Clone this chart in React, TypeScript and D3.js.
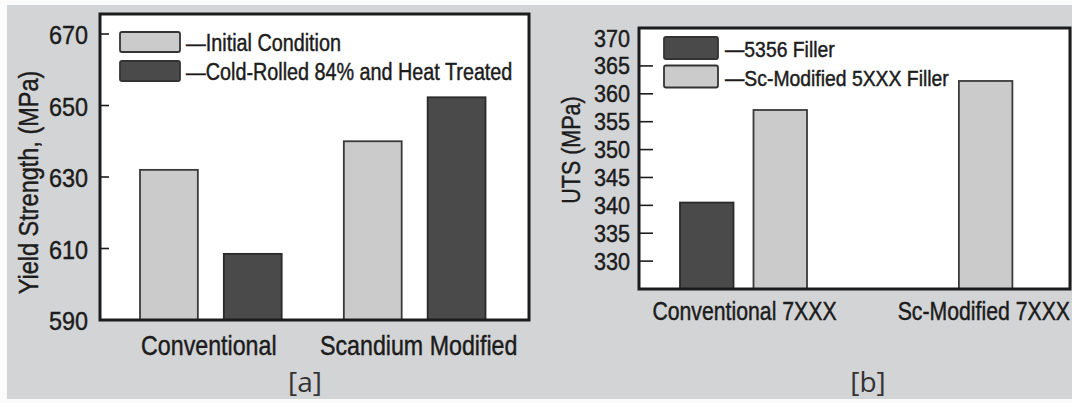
import React from "react";
import * as d3 from "d3";

// ---------- Panel [a] data ----------
const categoriesA = ["Conventional", "Scandium Modified"];
const seriesA = ["Initial Condition", "Cold-Rolled 84% and Heat Treated"];
const initialConditionA = [632, 640];
const coldRolledA = [608.5, 652.3];
const ticksA = [590, 610, 630, 650, 670];

// ---------- Panel [b] data ----------
const categoriesB = ["Conventional 7XXX", "Sc-Modified 7XXX"];
const seriesB = ["5356 Filler", "Sc-Modified 5XXX Filler"];
const filler5356B: (number | null)[] = [340.5, null];
const fillerScB: (number | null)[] = [357.1, 362.3];
const ticksB = [330, 335, 340, 345, 350, 355, 360, 365, 370];

const LIGHT = "#cbcbcb";
const DARK = "#4a4a4a";
const BG = "#d3d4d6";
const INK = "#1c1c1c";
const FONT = "'Liberation Sans', Arial, Helvetica, sans-serif";

function T({ x, y, sx = 0.9, size, anchor = "start", rotate = 0, children, family = FONT, fill = INK, bold = true }: any) {
  const tr = `translate(${x},${y})${rotate ? ` rotate(${rotate})` : ""} scale(${sx},1)`;
  return (
    <text transform={tr} fontSize={size} fontFamily={family} textAnchor={anchor} fill={fill}
      stroke={bold ? fill : "none"} strokeWidth={bold ? 0.45 : 0}>
      {children}
    </text>
  );
}

function PanelA() {
  const frame = { l: 100, r: 529, t: 14, b: 320 };
  const y = d3.scaleLinear().domain([590, 675.6]).range([frame.b, frame.t]);
  const x0 = d3.scaleBand<string>().domain(categoriesA).range([140, 485.5]).paddingInner(0.305);
  const x1 = d3.scaleBand<string>().domain(seriesA).range([0, x0.bandwidth()]).paddingInner(0.31);
  const vals = [initialConditionA, coldRolledA];
  const fills = [LIGHT, DARK];
  return (
    <g>
      <rect x={frame.l} y={frame.t} width={frame.r - frame.l} height={frame.b - frame.t} fill="#fff" />
      {categoriesA.map((c, ci) =>
        seriesA.map((s, si) => {
          const v = vals[si][ci];
          const bx = (x0(c) as number) + (x1(s) as number);
          return (
            <rect key={c + s} x={bx} y={y(v)} width={x1.bandwidth()} height={y(590) - y(v)}
              fill={fills[si]} stroke={si === 0 ? "#3a3a3a" : "#2a2a2a"} strokeWidth={1.8} />
          );
        })
      )}
      {ticksA.map((t) => (
        <g key={t}>
          <line x1={frame.l} x2={frame.l + 9} y1={y(t)} y2={y(t)} stroke={INK} strokeWidth={1.6} />
          <T x={88} y={y(t) + 10} size={26} sx={0.9} anchor="end">{t}</T>
        </g>
      ))}
      <rect x={frame.l} y={frame.t} width={frame.r - frame.l} height={frame.b - frame.t} fill="none" stroke={INK} strokeWidth={3} />
      {categoriesA.map((c) => (
        <T key={c} x={(x0(c) as number) + x0.bandwidth() / 2 + (c === categoriesA[1] ? 4 : -2)} y={355} size={27} sx={0.86} anchor="middle">{c}</T>
      ))}
      <T x={38} y={182.5} size={27} sx={0.87} anchor="middle" rotate={-90}>Yield Strength, (MPa)</T>
      {/* legend */}
      {seriesA.map((s, i) => (
        <g key={s}>
          <rect x={120} y={32 + i * 29} width={60} height={20} rx={2} fill={fills[i]} stroke="#333" strokeWidth={1.8} />
          <T x={186} y={51 + i * 28.5} size={23} sx={0.86}>{"\u2014" + s}</T>
        </g>
      ))}
      <T x={305} y={392} size={28} sx={1} anchor="middle" family="'Open Sans', Lato, sans-serif" fill="#333" bold={false}>[a]</T>
    </g>
  );
}

function PanelB() {
  const frame = { l: 639, r: 1070, t: 28, b: 289 };
  const y = d3.scaleLinear().domain([325, 371.8]).range([frame.b, frame.t]);
  const x0 = d3.scaleBand<string>().domain(categoriesB).range([680, 1012.4]).paddingInner(0.3817);
  const x1 = d3.scaleBand<string>().domain(seriesB).range([0, x0.bandwidth()]).paddingInner(0.272);
  const vals = [filler5356B, fillerScB];
  const fills = [DARK, LIGHT];
  return (
    <g>
      <rect x={frame.l} y={frame.t} width={frame.r - frame.l} height={frame.b - frame.t} fill="#fff" />
      {categoriesB.map((c, ci) =>
        seriesB.map((s, si) => {
          const v = vals[si][ci];
          if (v == null) return null;
          const bx = (x0(c) as number) + (x1(s) as number);
          return (
            <rect key={c + s} x={bx} y={y(v)} width={x1.bandwidth()} height={y(325) - y(v)}
              fill={fills[si]} stroke={si === 1 ? "#3a3a3a" : "#2a2a2a"} strokeWidth={1.8} />
          );
        })
      )}
      {ticksB.map((t) => (
        <g key={t}>
          {t < 370 && <line x1={frame.l} x2={frame.l + 14} y1={y(t)} y2={y(t)} stroke={INK} strokeWidth={1.6} />}
          <T x={630} y={y(t) + 8.5} size={23.5} sx={0.92} anchor="end">{t}</T>
        </g>
      ))}
      <rect x={frame.l} y={frame.t} width={frame.r - frame.l} height={frame.b - frame.t} fill="none" stroke={INK} strokeWidth={3} />
      <T x={(x0(categoriesB[0]) as number) + x0.bandwidth() / 2 + 1} y={320} size={25} sx={0.85} anchor="middle">{categoriesB[0]}</T>
      <T x={frame.r} y={320} size={25} sx={0.85} anchor="end">{categoriesB[1]}</T>
      <T x={580} y={150} size={25} sx={0.86} anchor="middle" rotate={-90}>UTS (MPa)</T>
      {seriesB.map((s, i) => (
        <g key={s}>
          <rect x={664} y={37 + i * 28.5} width={54} height={22} rx={2} fill={fills[i]} stroke="#333" strokeWidth={1.8} />
          <T x={725} y={57 + i * 29} size={22} sx={0.88}>{"\u2014" + s}</T>
        </g>
      ))}
      <T x={868} y={392} size={28} sx={1} anchor="middle" family="'Open Sans', Lato, sans-serif" fill="#333" bold={false}>[b]</T>
    </g>
  );
}

export default function App() {
  return (
    <svg width={1072} height={403} style={{ position: "absolute", left: 0, top: 0, display: "block" }}>
      <rect x={0} y={0} width={1072} height={403} fill="#fbfbfb" />
      <rect x={7} y={5} width={1065} height={394} fill={BG} />
      <PanelA />
      <PanelB />
    </svg>
  );
}
